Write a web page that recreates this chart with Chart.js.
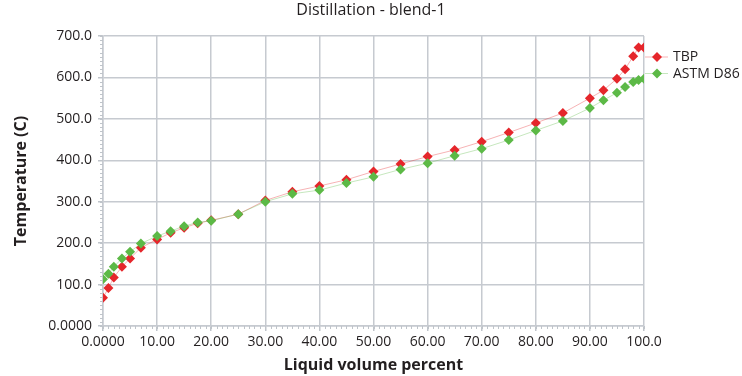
<!DOCTYPE html>
<html>
<head>
<meta charset="utf-8">
<script src="https://cdn.jsdelivr.net/npm/chart.js@4/dist/chart.umd.min.js"></script>
<style>
  html, body { margin: 0; padding: 0; background: #fff; }
  #wrap { width: 742px; height: 376px; }
</style>
</head>
<body>
<div id="wrap"><canvas id="distChart" width="742" height="376"></canvas></div>
<script>
// Liquid volume percent (shared by both curves)
const volPct = [0, 1, 2, 3.5, 5, 7, 10, 12.5, 15, 17.5, 20, 25, 30, 35, 40, 45, 50, 55, 60, 65, 70, 75, 80, 85, 90, 92.5, 95, 96.5, 98, 99, 100];

// Temperature (C)
const tbpTemp = [68, 92, 117, 143, 163, 189, 209, 225, 237, 248, 255, 270, 303, 324, 338, 353, 373, 391, 409, 425, 445, 467, 490, 514, 550, 569, 597, 620, 651, 672, 672];
const d86Temp = [113, 126, 143, 163, 179, 199, 217, 229, 241, 250, 254, 270, 300, 319, 328, 345, 360, 378, 393, 411, 428, 449, 472, 495, 526, 545, 563, 577, 589, 594, 597];

const seriesNames = ['TBP', 'ASTM D86'];
const chartTitle = 'Distillation - blend-1';
const xTickLabels = ['0.0000', '10.00', '20.00', '30.00', '40.00', '50.00', '60.00', '70.00', '80.00', '90.00', '100.0'];
const yTickLabels = ['0.0000', '100.0', '200.0', '300.0', '400.0', '500.0', '600.0', '700.0'];

const RED = '#e5262b';
const GREEN = '#5cb946';
const GRID = '#c6cad0';
const TEXT = '#231f20';

Chart.defaults.font.family = "'Open Sans', sans-serif";
Chart.defaults.color = TEXT;

const toPoints = ys => volPct.map((x, i) => ({ x: x, y: ys[i] }));

// small outward minor ticks along both axes
const minorTicks = {
  id: 'minorTicks',
  afterDraw(chart) {
    const c = chart.ctx;
    const xs = chart.scales.x, ys = chart.scales.y;
    const area = chart.chartArea;
    c.save();
    c.strokeStyle = '#bfc4ca';
    c.lineWidth = 1;
    c.beginPath();
    for (let v = 0; v <= 100; v += 1) {
      const px = Math.round(xs.getPixelForValue(v)) + 0.5;
      c.moveTo(px, area.bottom);
      c.lineTo(px, area.bottom + 3);
    }
    for (let v = 0; v <= 700; v += 10) {
      const py = Math.round(ys.getPixelForValue(v)) + 0.5;
      c.moveTo(area.left - 3, py);
      c.lineTo(area.left, py);
    }
    c.stroke();
    c.restore();
  }
};

// title centred on the whole canvas (legend column included)
const pageTitle = {
  id: 'pageTitle',
  afterDraw(chart) {
    const c = chart.ctx;
    c.save();
    c.fillStyle = TEXT;
    c.font = "16px 'Open Sans', sans-serif";
    c.textAlign = 'center';
    c.textBaseline = 'middle';
    c.fillText(chartTitle, chart.width / 2, 10);
    c.restore();
  }
};

// legend to the right: short line, diamond, name
const sideLegend = {
  id: 'sideLegend',
  afterDraw(chart) {
    const c = chart.ctx;
    const area = chart.chartArea;
    const x0 = area.right + 1;
    chart.data.datasets.forEach((ds, i) => {
      const y = area.top + 21 + i * 16.5;
      c.save();
      c.strokeStyle = ds.borderColor;
      c.lineWidth = 1;
      c.beginPath();
      c.moveTo(x0, y);
      c.lineTo(x0 + 23, y);
      c.stroke();
      c.fillStyle = ds.pointBackgroundColor;
      c.beginPath();
      c.moveTo(x0 + 12, y - 5);
      c.lineTo(x0 + 17, y);
      c.lineTo(x0 + 12, y + 5);
      c.lineTo(x0 + 7, y);
      c.closePath();
      c.fill();
      c.fillStyle = TEXT;
      c.font = "14px 'Open Sans', sans-serif";
      c.textBaseline = 'middle';
      c.fillText(ds.label, x0 + 28, y + 0.5);
      c.restore();
    });
  }
};

const ctx = document.getElementById('distChart').getContext('2d');

const distChart = new Chart(ctx, {
  type: 'line',
  data: {
    datasets: [{
      label: seriesNames[0],
      data: toPoints(tbpTemp),
      borderColor: 'rgba(229,38,43,0.35)',
      borderWidth: 1,
      pointStyle: 'rectRot',
      pointRadius: 5,
      pointBorderWidth: 0,
      pointBackgroundColor: RED,
      order: 1
    }, {
      label: seriesNames[1],
      data: toPoints(d86Temp),
      borderColor: 'rgba(92,185,70,0.35)',
      borderWidth: 1,
      pointStyle: 'rectRot',
      pointRadius: 5,
      pointBorderWidth: 0,
      pointBackgroundColor: GREEN,
      order: 0
    }]
  },
  options: {
    responsive: false,
    animation: false,
    devicePixelRatio: 1,
    layout: { padding: { left: 0, right: 98, top: 36, bottom: 0 } },
    scales: {
      x: {
        type: 'linear',
        min: 0,
        max: 100,
        afterFit: s => { s.height = 50; },
        border: { color: GRID, width: 1.5 },
        grid: { color: GRID, lineWidth: 1.5, tickLength: 5, tickColor: '#bfc4ca' },
        ticks: {
          stepSize: 10,
          padding: 3,
          maxRotation: 0,
          font: { size: 14 },
          callback: v => xTickLabels[Math.round(v / 10)]
        },
        title: {
          display: true,
          text: 'Liquid volume percent',
          font: { size: 16, weight: 'bold' },
          padding: { top: 0, bottom: 1.4 }
        }
      },
      y: {
        type: 'linear',
        min: 0,
        max: 700,
        afterFit: s => { s.width = 103; },
        border: { color: GRID, width: 1.5 },
        grid: { color: GRID, lineWidth: 1.5, tickLength: 5, tickColor: '#bfc4ca' },
        ticks: {
          stepSize: 100,
          padding: 6,
          font: { size: 14 },
          callback: v => yTickLabels[Math.round(v / 100)]
        },
        title: {
          display: true,
          text: 'Temperature (C)',
          font: { size: 16, weight: 'bold' },
          padding: { top: 11.4, bottom: 0 }
        }
      }
    },
    plugins: {
      legend: { display: false },
      tooltip: { enabled: false },
      title: { display: false }
    }
  },
  plugins: [minorTicks, pageTitle, sideLegend]
});
</script>
</body>
</html>
